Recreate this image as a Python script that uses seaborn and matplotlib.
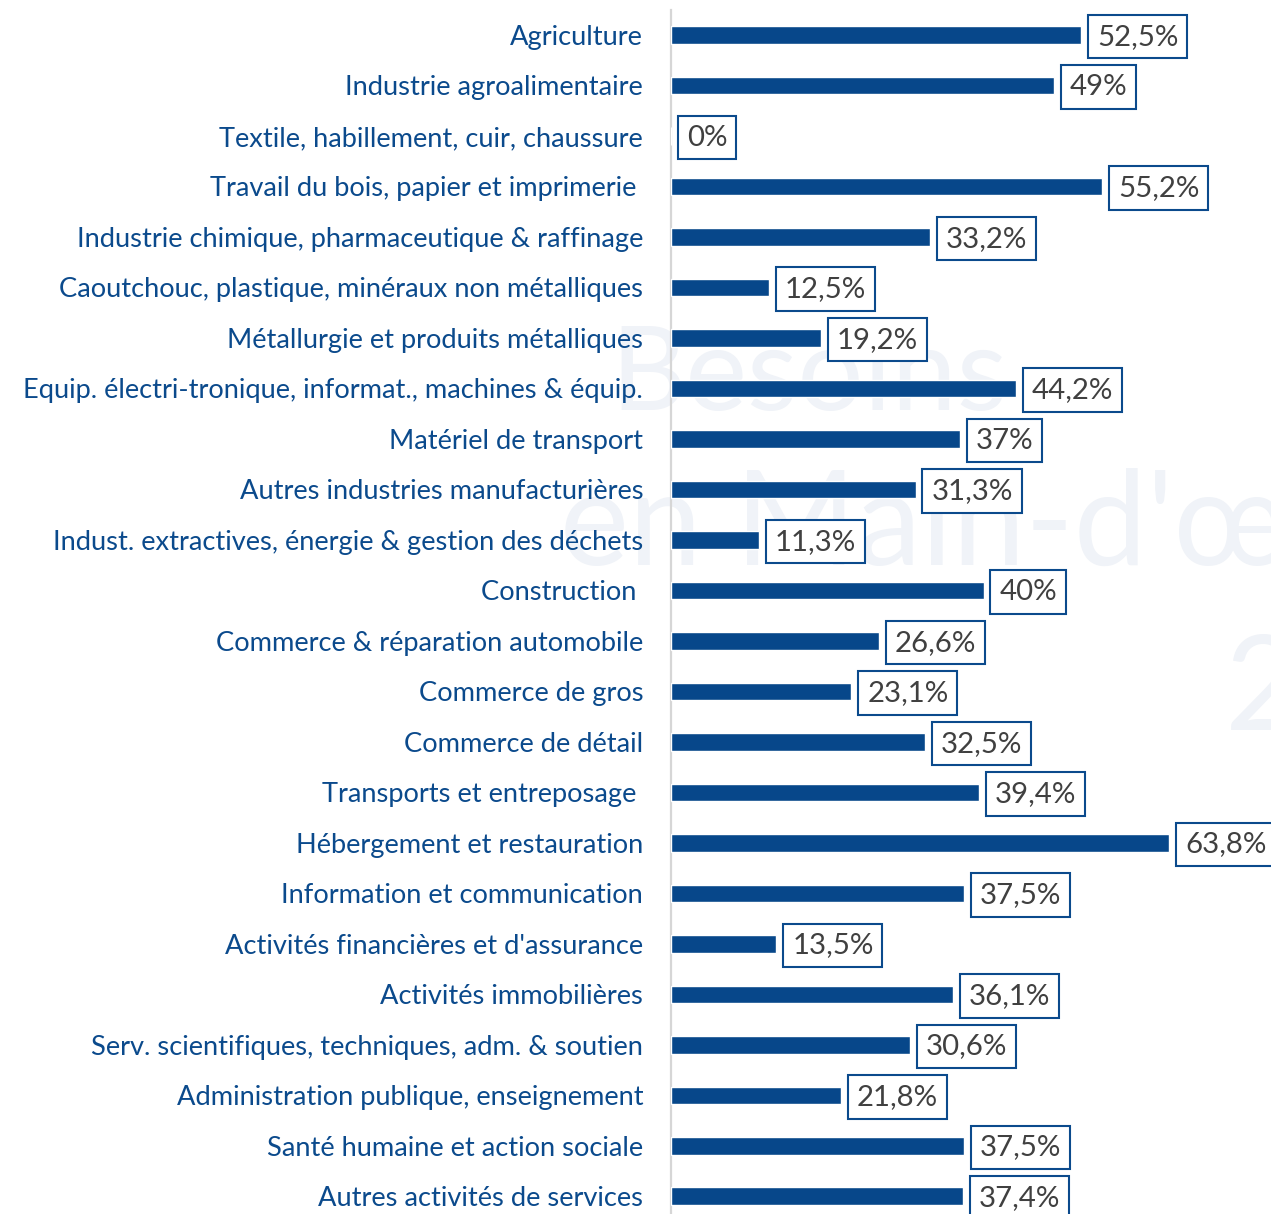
import matplotlib
matplotlib.use("Agg")
import matplotlib.pyplot as plt
import seaborn as sns
import pandas as pd

categories = [
    "Agriculture",
    "Industrie agroalimentaire",
    "Textile, habillement, cuir, chaussure",
    "Travail du bois, papier et imprimerie ",
    "Industrie chimique, pharmaceutique & raffinage",
    "Caoutchouc, plastique, minéraux non métalliques",
    "Métallurgie et produits métalliques",
    "Equip. électri-tronique, informat., machines & équip.",
    "Matériel de transport",
    "Autres industries manufacturières",
    "Indust. extractives, énergie & gestion des déchets",
    "Construction ",
    "Commerce & réparation automobile",
    "Commerce de gros",
    "Commerce de détail",
    "Transports et entreposage ",
    "Hébergement et restauration",
    "Information et communication",
    "Activités financières et d'assurance",
    "Activités immobilières",
    "Serv. scientifiques, techniques, adm. & soutien",
    "Administration publique, enseignement",
    "Santé humaine et action sociale",
    "Autres activités de services",
]
values = [52.5, 49.0, 0.0, 55.2, 33.2, 12.5, 19.2, 44.2, 37.0, 31.3, 11.3, 40.0,
          26.6, 23.1, 32.5, 39.4, 63.8, 37.5, 13.5, 36.1, 30.6, 21.8, 37.5, 37.4]
value_labels = ["52,5%", "49%", "0%", "55,2%", "33,2%", "12,5%", "19,2%", "44,2%",
                "37%", "31,3%", "11,3%", "40%", "26,6%", "23,1%", "32,5%", "39,4%",
                "63,8%", "37,5%", "13,5%", "36,1%", "30,6%", "21,8%", "37,5%", "37,4%"]

BAR = "#07478a"
LABEL = "#0b4a8c"
VALTXT = "#404040"

sns.set_theme(style="white")
plt.rcParams["font.family"] = ["Lato", "DejaVu Sans"]

df = pd.DataFrame({"cat": categories, "val": values})

fig = plt.figure(figsize=(12.71, 12.14), dpi=100)
fig.patch.set_facecolor("white")

# faint watermark
wm = "#f0f3f8"
fig.text(610 / 1271, 1 - 410 / 1214, "Besoins", fontsize=84, color=wm, zorder=-5,
         ha="left", va="baseline")
fig.text(560 / 1271, 1 - 565 / 1214, "en Main-d'œuvre", fontsize=94, color=wm, zorder=-5,
         ha="left", va="baseline")
fig.text(1225 / 1271, 1 - 730 / 1214, "2", fontsize=94, color=wm, zorder=-5,
         ha="left", va="baseline")

ax = fig.add_axes([671 / 1271, 0, 600 / 1271, 1])
ax.set_facecolor("none")

sns.barplot(data=df, x="val", y="cat", orient="h", color=BAR, width=0.35,
            saturation=1, ax=ax, zorder=3)

ax.set_xlim(0, 76.8)
ax.set_ylim(23.35, -0.693)
ax.set_xlabel("")
ax.set_ylabel("")
ax.set_xticks([])
ax.tick_params(axis="y", length=0, pad=20, labelsize=19.6, labelcolor=LABEL)

for s in ["top", "right", "bottom"]:
    ax.spines[s].set_visible(False)
ax.spines["left"].set_color("#d6d6d6")
ax.spines["left"].set_linewidth(1.6)
ax.spines["left"].set_bounds(-0.5, 23.35)

fs_val = 21.2
pad = 0.3
for i, (v, lab) in enumerate(zip(values, value_labels)):
    ax.annotate(lab, xy=(v, i), xycoords="data",
                xytext=(5 + pad * fs_val, -1.2), textcoords="offset points",
                ha="left", va="center", fontsize=fs_val, color=VALTXT,
                bbox=dict(boxstyle=f"square,pad={pad}", fc="white", ec=LABEL, lw=1.5),
                zorder=5, annotation_clip=False)

fig.savefig("out.png", dpi=100)
